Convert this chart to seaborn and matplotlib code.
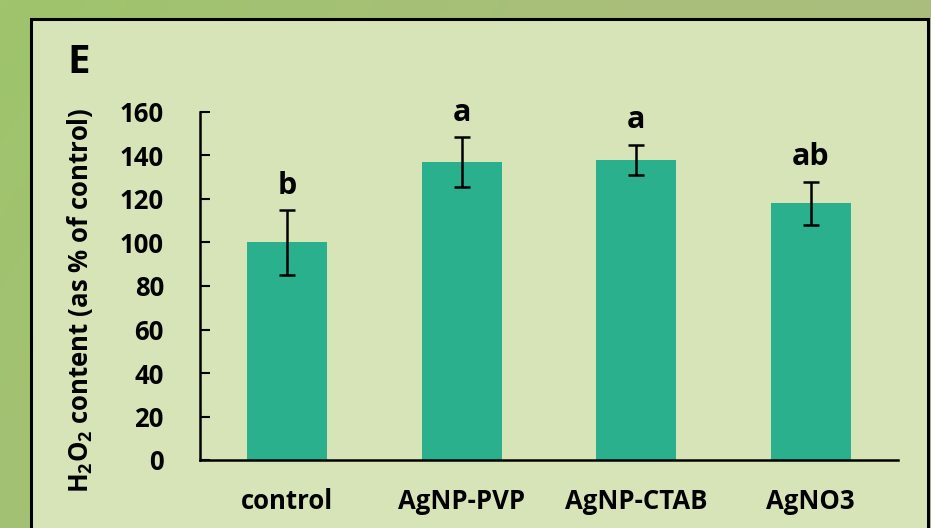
import numpy as np
import pandas as pd
import matplotlib
matplotlib.use("Agg")
import matplotlib.pyplot as plt
from matplotlib.patches import Rectangle
from matplotlib.colors import LinearSegmentedColormap
import seaborn as sns

# ---- data ----
categories = ["control", "AgNP-PVP", "AgNP-CTAB", "AgNO3"]
values = [100, 137, 138, 118]
errors = [15, 11.5, 7, 10]
letters = ["b", "a", "a", "ab"]
yticks = [0, 20, 40, 60, 80, 100, 120, 140, 160]

FONT = "Open Sans"
sns.set_theme(style="white")
plt.rcParams["font.family"] = [FONT, "DejaVu Sans"]
plt.rcParams["font.weight"] = "bold"
plt.rcParams["text.color"] = "black"
plt.rcParams["xtick.labelcolor"] = "black"
plt.rcParams["ytick.labelcolor"] = "black"
plt.rcParams["mathtext.fontset"] = "custom"
plt.rcParams["mathtext.rm"] = FONT + ":bold"
plt.rcParams["mathtext.bf"] = FONT + ":bold"
plt.rcParams["mathtext.it"] = FONT + ":bold"

W, H = 931, 528
fig = plt.figure(figsize=(W / 100, H / 100), dpi=100)

# background gradient + panel
bg = fig.add_axes([0, 0, 1, 1])
bg.set_axis_off()
cmap = LinearSegmentedColormap.from_list("g", ["#9ec46c", "#a9bf7b", "#abbd7e"])
xx = np.linspace(0, 1, 200)
yy = np.linspace(0, 1, 120)
X, Y = np.meshgrid(xx, yy)
grad = 0.75 * X + 0.25 * (1 - Y)
bg.imshow(grad, cmap=cmap, extent=[0, 1, 0, 1], aspect="auto", origin="lower")
bg.set_xlim(0, 1)
bg.set_ylim(0, 1)
bg.add_patch(Rectangle((31 / W, -0.05), (928 - 31) / W, 1.05 - 19 / H,
                       facecolor="#d6e4b7", edgecolor="black", linewidth=2.2))

# main axes
ax = fig.add_axes([200 / W, 1 - 460 / H, (898 - 200) / W, (460 - 112) / H])
ax.set_facecolor("#d6e4b7")
ax.patch.set_alpha(0)

df = pd.DataFrame({"cat": categories, "val": values})
sns.barplot(data=df, x="cat", y="val", color="#2bb08e", saturation=1,
            width=0.46, ax=ax, errorbar=None, linewidth=0)
ax.errorbar(np.arange(len(categories)), values, yerr=errors, fmt="none",
            ecolor="black", elinewidth=1.8, capsize=6, capthick=1.8)

for i, (v, e, l) in enumerate(zip(values, errors, letters)):
    ax.text(i, v + e + 7.5, l, ha="center", va="baseline",
            fontsize=22, fontweight="bold", color="black")

ax.set_xlim(-0.5, len(categories) - 0.5)
ax.set_ylim(0, 160)
ax.set_yticks(yticks)
ax.set_yticklabels([str(t) for t in yticks], fontsize=18.5, fontweight="bold",
                   color="black")
ax.set_xticks(range(len(categories)))
ax.set_xticklabels(categories, fontsize=18.5, fontweight="bold", color="black")
ax.set_xticks(np.arange(-0.5, len(categories)), minor=True)
ax.tick_params(axis="x", which="major", length=0, pad=20, colors="black")
ax.tick_params(axis="x", which="minor", length=8, width=1.5, direction="in",
               color="black")
ax.tick_params(axis="y", which="major", length=7, width=1.5, direction="in",
               pad=26, color="black", labelcolor="black", left=True)
ax.set_xlabel("")
ax.set_ylabel("")
for s in ["top", "right"]:
    ax.spines[s].set_visible(False)
for s in ["left", "bottom"]:
    ax.spines[s].set_visible(True)
    ax.spines[s].set_color("black")
    ax.spines[s].set_linewidth(1.8)

fig.text(80 / W, 1 - 300 / H, r"H$_2$O$_2$ content (as % of control)",
         rotation=90, ha="center", va="center", fontsize=18.5,
         fontweight="bold", color="black")
fig.text(67 / W, 1 - 73 / H, "E", ha="left", va="baseline", fontsize=29,
         fontweight="bold", color="black")

fig.savefig("out.png", dpi=100)
